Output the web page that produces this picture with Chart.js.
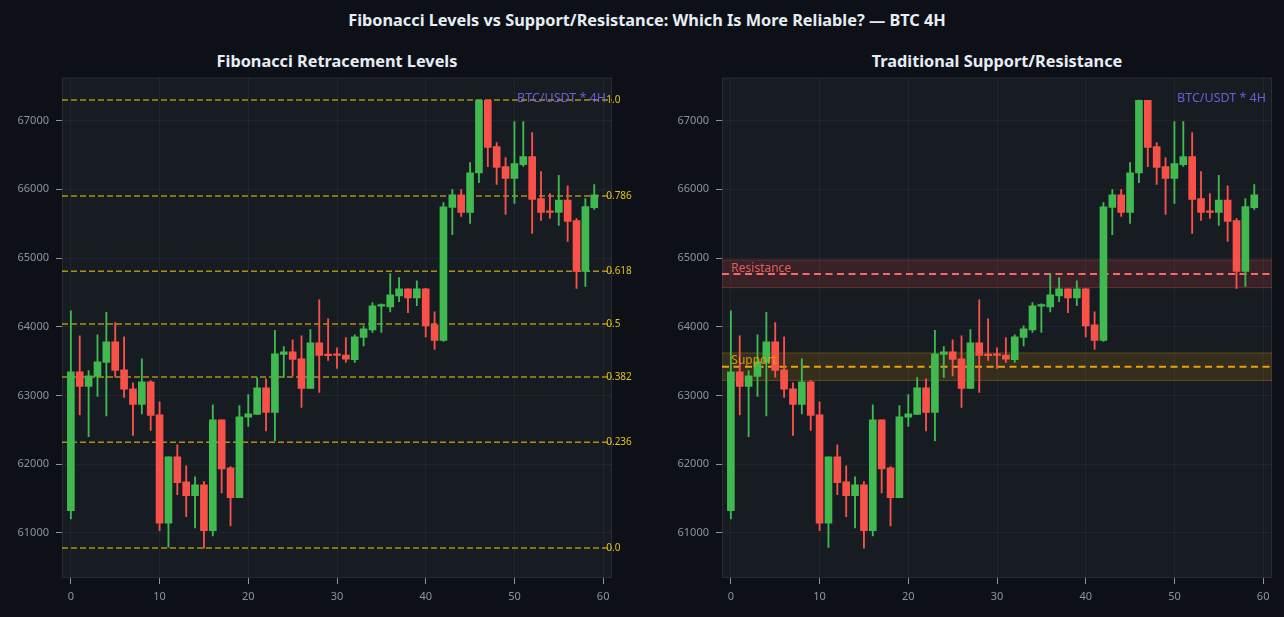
<!DOCTYPE html>
<html>
<head>
<meta charset="utf-8">
<script src="https://cdn.jsdelivr.net/npm/chart.js@4.4.1/dist/chart.umd.min.js"></script>
<style>
  html, body { margin: 0; padding: 0; background: #0d1117; }
  body { width: 1284px; height: 617px; position: relative; overflow: hidden; font-family: "Noto Sans", sans-serif; }
  .titulo { position: absolute; color: #e6edf3; font-weight: bold; text-align: center; white-space: nowrap; line-height: 22px; font-size: 16.3px; }
  #supTitulo { left: 5px; width: 1284px; top: 9px; }
  #tituloFib { left: 62px; width: 550px; top: 50px; }
  #tituloSR { left: 722px; width: 550px; top: 50px; }
  canvas { position: absolute; }
  #graficoFib { left: 0; top: 64px; }
  #graficoSR { left: 660px; top: 64px; }
</style>
</head>
<body>
<div class="titulo" id="supTitulo">Fibonacci Levels vs Support/Resistance: Which Is More Reliable? — BTC 4H</div>
<div class="titulo" id="tituloFib">Fibonacci Retracement Levels</div>
<div class="titulo" id="tituloSR">Traditional Support/Resistance</div>
<canvas id="graficoFib" width="642" height="553"></canvas>
<canvas id="graficoSR" width="624" height="553"></canvas>
<script>
// ===============================
// Datos (velas BTC/USDT 4H)
// ===============================
const velas = [0,1,2,3,4,5,6,7,8,9,10,11,12,13,14,15,16,17,18,19,20,21,22,23,24,25,26,27,28,29,
               30,31,32,33,34,35,36,37,38,39,40,41,42,43,44,45,46,47,48,49,50,51,52,53,54,55,56,57,58,59];
const aperturas = [61325,63345,63131,63277,63481,63782,63374,63097,62869,63199,62719,61141,62107,61743,61544,
                   61699,61035,62646,61947,61515,62685,62724,63112,62753,63598,63636,63534,63102,63767,63600,
                   63595,63588,63520,63844,63956,64300,64291,64451,64553,64422,64553,64029,63801,65738,65922,
                   65665,66238,67296,66621,66330,66160,66359,66476,65864,65675,65665,65844,65544,64806,65733];
const maximos = [64233,63869,63364,63884,64209,64063,63855,63185,63534,63219,62908,62107,62282,61976,61816,
                 61748,62864,62646,61966,62855,63015,63263,63243,63947,63714,63811,63869,63961,64393,64117,
                 63695,63844,63883,64014,64354,64335,64776,64718,64553,64670,64560,64218,65806,65995,65995,
                 66388,67300,67296,66679,66461,66985,66985,66825,66257,65937,66204,66053,65573,65864,66068];
const minimos = [61204,62719,62403,62986,62704,63267,62971,62418,62733,62491,61034,60790,61559,61238,61073,
                 60780,60957,61583,61102,61515,62549,62724,62486,62340,63263,63287,62826,63102,63044,63510,
                 63394,63480,63480,63723,63917,63917,64218,64364,64204,64306,63854,63670,63786,65340,65607,
                 65505,66097,66330,66073,65636,65796,66335,65359,65548,65578,65476,65243,64558,64587,65709];
const cierres = [63345,63131,63287,63491,63782,63364,63092,62869,63199,62709,61141,62107,61733,61544,61699,
                 61034,62646,61933,61515,62690,62733,63112,62753,63607,63636,63525,63102,63767,63583,63580,
                 63585,63530,63854,63971,64306,64310,64466,64553,64422,64553,64014,63801,65747,65922,65665,
                 66242,67296,66611,66320,66160,66374,66476,65854,65665,65665,65844,65534,64806,65748,65922];

const ticksX = [0, 10, 20, 30, 40, 50, 60];
const ticksY = [61000, 62000, 63000, 64000, 65000, 66000, 67000];

const ratiosFib = [1.0, 0.786, 0.618, 0.5, 0.382, 0.236, 0.0];
const etiquetasFib = ['1.0', '0.786', '0.618', '0.5', '0.382', '0.236', '0.0'];

const nivelResistencia = 64770;
const nivelSoporte = 63420;
const anchoZona = 200;

// ===============================
// Colores
// ===============================
const VERDE = '#3fb950';
const ROJO = '#f85149';
const FONDO_PLOT = '#171b22';

// ===============================
// Construir datasets de velas (mecha + cuerpo)
// ===============================
function crearVelas() {
  const colores = velas.map((_, i) => cierres[i] >= aperturas[i] ? VERDE : ROJO);
  const mechas = {
    type: 'bar',
    data: velas.map((x, i) => ({ x: x, y: [minimos[i], maximos[i]] })),
    backgroundColor: colores,
    barThickness: 1.2,
    grouped: false,
    borderWidth: 0,
    order: 1
  };
  const cuerpos = {
    type: 'bar',
    data: velas.map((x, i) => ({
      x: x,
      y: [Math.min(aperturas[i], cierres[i]), Math.max(aperturas[i], cierres[i])]
    })),
    backgroundColor: colores,
    barThickness: 7,
    minBarLength: 1.5,
    grouped: false,
    borderWidth: 0,
    order: 0
  };
  return [mechas, cuerpos];
}

function lineaHorizontal(nivel, color, dash, ancho, extra) {
  return Object.assign({
    type: 'line',
    data: [{ x: -1, y: nivel }, { x: 61, y: nivel }],
    borderColor: color,
    borderWidth: ancho,
    borderDash: dash,
    pointRadius: 0,
    fill: false,
    order: 5
  }, extra || {});
}

// ===============================
// Plugins de dibujo
// ===============================
const fondoPlot = {
  id: 'fondoPlot',
  beforeDraw(chart) {
    const { ctx, chartArea: a } = chart;
    ctx.save();
    ctx.fillStyle = FONDO_PLOT;
    ctx.fillRect(a.left, a.top, a.right - a.left, a.bottom - a.top);
    ctx.restore();
  },
  afterDraw(chart) {
    const { ctx, chartArea: a } = chart;
    ctx.save();
    ctx.strokeStyle = 'rgba(255,255,255,0.08)';
    ctx.lineWidth = 1;
    ctx.strokeRect(a.left + 0.5, a.top + 0.5, a.right - a.left - 1, a.bottom - a.top - 1);
    ctx.restore();
  }
};

const marcaAgua = {
  id: 'marcaAgua',
  afterDatasetsDraw(chart) {
    const { ctx, chartArea: a } = chart;
    ctx.save();
    ctx.font = '12.5px "Noto Sans"';
    ctx.fillStyle = 'rgba(123,104,238,0.85)';
    ctx.textAlign = 'right';
    ctx.textBaseline = 'middle';
    ctx.fillText('BTC/USDT * 4H', a.right - 6, a.top + 21);
    ctx.restore();
  }
};

function opcionesEscalas() {
  return {
    x: {
      type: 'linear',
      min: -1,
      max: 61,
      offset: false,
      afterBuildTicks: (s) => { s.ticks = ticksX.map(v => ({ value: v })); },
      afterFit: (s) => { s.height = 39; },
      ticks: { color: '#8b949e', font: { family: 'Noto Sans', size: 11 }, padding: 6 },
      grid: { offset: false, color: 'rgba(255,255,255,0.045)', tickColor: '#8b949e', tickLength: 6 },
      border: { display: false }
    },
    y: {
      type: 'linear',
      min: 60345,
      max: 67626,
      afterBuildTicks: (s) => { s.ticks = ticksY.map(v => ({ value: v })); },
      afterFit: (s) => { s.width = 62; },
      ticks: {
        color: '#8b949e',
        font: { family: 'Noto Sans', size: 11 },
        padding: 7,
        callback: (v) => String(v)
      },
      grid: { color: 'rgba(255,255,255,0.045)', tickColor: '#8b949e', tickLength: 6 },
      border: { display: false }
    }
  };
}

// ===============================
// Gráfico izquierdo: Fibonacci
// ===============================
function configurarGraficoFib() {
  const bajo = Math.min(...minimos);
  const alto = Math.max(...maximos);
  const nivelesFib = ratiosFib.map(r => bajo + r * (alto - bajo));

  const etiquetasPlugin = {
    id: 'etiquetasFib',
    afterDatasetsDraw(chart) {
      const { ctx, scales } = chart;
      ctx.save();
      ctx.font = '10px "Noto Sans"';
      ctx.fillStyle = '#e3c21a';
      ctx.textAlign = 'left';
      ctx.textBaseline = 'middle';
      nivelesFib.forEach((n, i) => {
        ctx.fillText(etiquetasFib[i], scales.x.getPixelForValue(60.35), scales.y.getPixelForValue(n));
      });
      ctx.restore();
    }
  };

  const lineas = nivelesFib.map(n => lineaHorizontal(n, 'rgba(228,190,20,0.72)', [6, 3], 1.5));

  new Chart(document.getElementById('graficoFib'), {
    type: 'bar',
    data: { datasets: [...crearVelas(), ...lineas] },
    options: {
      responsive: false,
      animation: false,
      devicePixelRatio: 1,
      layout: { padding: { left: 0, right: 30, top: 2, bottom: 0 } },
      plugins: { legend: { display: false }, tooltip: { enabled: false } },
      scales: opcionesEscalas()
    },
    plugins: [fondoPlot, marcaAgua, etiquetasPlugin]
  });
}

// ===============================
// Gráfico derecho: Soporte / Resistencia
// ===============================
function configurarGraficoSR() {
  const zonaRes = [
    lineaHorizontal(nivelResistencia + anchoZona, 'rgba(248,81,73,0.3)', [], 1,
      { fill: { target: '+1', above: 'rgba(248,81,73,0.15)', below: 'rgba(248,81,73,0.15)' }, order: 6 }),
    lineaHorizontal(nivelResistencia - anchoZona, 'rgba(248,81,73,0.3)', [], 1, { order: 6 })
  ];
  const zonaSop = [
    lineaHorizontal(nivelSoporte + anchoZona, 'rgba(227,160,8,0.3)', [], 1,
      { fill: { target: '+1', above: 'rgba(227,160,8,0.15)', below: 'rgba(227,160,8,0.15)' }, order: 6 }),
    lineaHorizontal(nivelSoporte - anchoZona, 'rgba(227,160,8,0.3)', [], 1, { order: 6 })
  ];
  const lineasSR = [
    lineaHorizontal(nivelResistencia, '#f46a66', [7, 4.5], 2),
    lineaHorizontal(nivelSoporte, '#eba10c', [7, 4.5], 2)
  ];

  const etiquetasPlugin = {
    id: 'etiquetasSR',
    afterDatasetsDraw(chart) {
      const { ctx, scales } = chart;
      ctx.save();
      ctx.font = '12px "Noto Sans"';
      ctx.textAlign = 'left';
      ctx.textBaseline = 'alphabetic';
      const x0 = scales.x.getPixelForValue(0.05);
      ctx.fillStyle = 'rgba(248,100,95,0.9)';
      ctx.fillText('Resistance', x0, scales.y.getPixelForValue(nivelResistencia) - 2);
      ctx.fillStyle = 'rgba(235,161,12,0.9)';
      ctx.fillText('Support', x0, scales.y.getPixelForValue(nivelSoporte) - 3);
      ctx.restore();
    }
  };

  new Chart(document.getElementById('graficoSR'), {
    type: 'bar',
    data: { datasets: [...crearVelas(), ...zonaRes, ...zonaSop, ...lineasSR] },
    options: {
      responsive: false,
      animation: false,
      devicePixelRatio: 1,
      layout: { padding: { left: 0, right: 12, top: 2, bottom: 0 } },
      plugins: { legend: { display: false }, tooltip: { enabled: false } },
      scales: opcionesEscalas()
    },
    plugins: [fondoPlot, marcaAgua, etiquetasPlugin]
  });
}

document.addEventListener('DOMContentLoaded', function () {
  configurarGraficoFib();
  configurarGraficoSR();
});
</script>
</body>
</html>
